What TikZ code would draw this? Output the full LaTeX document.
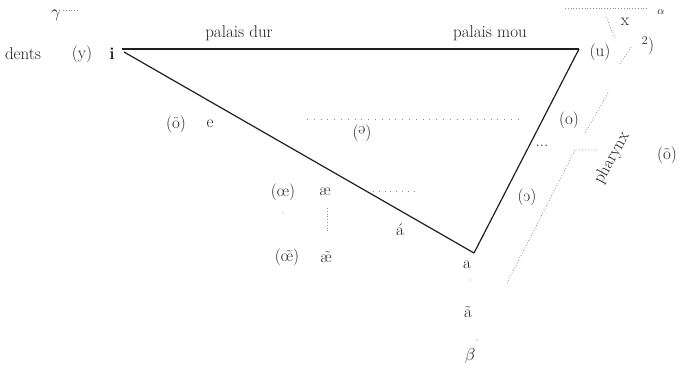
\documentclass[tikz,border=0pt]{standalone}
\usepackage{fontspec}
\begin{document}
\begin{tikzpicture}[x=1pt,y=-1pt,
  lbl/.style={inner sep=0pt,font=\fontsize{17}{20}\selectfont\addfontfeatures{LetterSpace=4},text=black!88},
  side/.style={line width=1.2pt,black!88},
  dots/.style={dotted,line width=0.8pt,black!45}]
\useasboundingbox (0,0) rectangle (684,368);
% vertices
\coordinate (vi) at (122,49);
\coordinate (vil) at (124,52);
\coordinate (vu) at (579,49);
\coordinate (va) at (474,253);
\draw[side] (vi) -- (vu);
\draw[side] (vu) -- (va);
\draw[side] (vil) -- (va);
% labels top-left
\node[lbl] (gam) at (56,15) {$\gamma$};
\coordinate (gd1) at (63,10); \coordinate (gd2) at (78,10);
\draw[dots] (gd1) -- (gd2);
\node[lbl] (dents) at (23,54) {dents};
\node[lbl] (ylab) at (82,54) {(y)};
\node[lbl] (ilab) at (112,54) {\textbf{i}};
\node[lbl] (pdur) at (239,33) {palais dur};
\node[lbl] (pmou) at (490,33) {palais mou};
% top right
\coordinate (t1) at (565,8); \coordinate (t2) at (648,8);
\draw[dots] (t1) -- (t2);
\node[lbl,font=\fontsize{11}{13}\selectfont] (alp) at (661,12) {$\alpha$};
\node[lbl] (xlab) at (625,22) {x};
\coordinate (x1) at (606,17); \coordinate (x2) at (615,38);
\draw[dots] (x1) -- (x2);
\node[lbl] (ulab) at (600,52) {(u)};
\coordinate (u1) at (620,64); \coordinate (u2) at (631,47);
\draw[dots] (u1) -- (u2);
\node[lbl] (sup) at (648,46) {\textsuperscript{2})};
% front vowels
\node[lbl] (oelab) at (176,124) {(\"o)};
\node[lbl] (elab) at (210,124) {e};
\node[lbl] (schwa) at (362,133) {(\raisebox{0.45ex}{\rotatebox[origin=c]{180}{e}})};
\coordinate (s1) at (307,119); \coordinate (s2) at (520,119);
\draw[dots,dash pattern=on 0.8pt off 6pt] (s1) -- (s2);
\node[lbl] (oe2) at (283,192) {(\oe)};
\node[lbl] (ae) at (325,192) {\ae};
\coordinate (ae1) at (373,191); \coordinate (ae2) at (417,191);
\draw[dots,dash pattern=on 0.8pt off 5pt] (ae1) -- (ae2);
\coordinate (av1) at (327,208); \coordinate (av2) at (327,233);
\draw[dots] (av1) -- (av2);
\coordinate (od) at (283,213);
\fill[black!40] (od) circle (0.6);
\node[lbl] (oen) at (287,257) {(\~{\oe})};
\node[lbl] (aen) at (326,257) {\~{\ae}};
\node[lbl] (aacute) at (400,230) {\'a};
% bottom
\node[lbl] (alab) at (467,265) {a};
\coordinate (bd1) at (470,280);
\fill[black!40] (bd1) circle (0.6);
\node[lbl] (atil) at (468,312) {\~a};
\coordinate (bd2) at (477,340);
\fill[black!40] (bd2) circle (0.6);
\node[lbl] (beta) at (470,356) {$\beta$};
% back vowels
\node[lbl] (olab) at (569,120) {(o)};
\coordinate (o1) at (608,93); \coordinate (o2) at (585,133);
\draw[dots] (o1) -- (o2);
\node[lbl] (ell) at (542,146) {...};
\coordinate (p1) at (597,150); \coordinate (p2) at (575,150); \coordinate (p3) at (507,283);
\draw[dots] (p1) -- (p2) -- (p3);
\node[lbl] (openo) at (527,197) {(\reflectbox{c})};
\node[lbl,rotate=61] (phar) at (612,158) {pharynx};
\node[lbl] (otil) at (667,155) {(\~o)};
\end{tikzpicture}
\end{document}
